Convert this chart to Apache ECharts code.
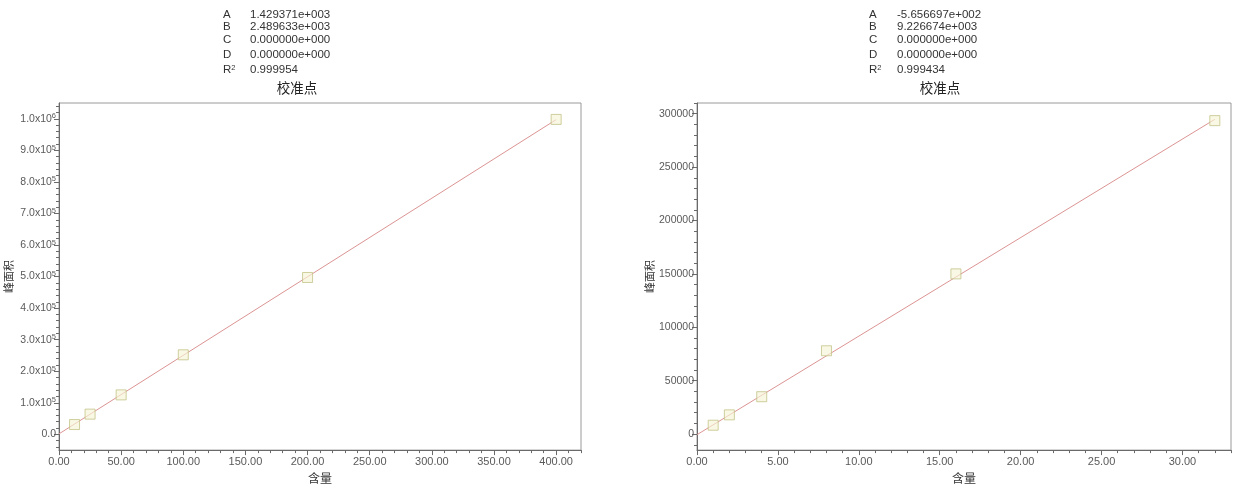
<!DOCTYPE html>
<html>
<head>
<meta charset="utf-8">
<script src="https://cdn.jsdelivr.net/npm/echarts@6/dist/echarts.min.js"></script>
<style>
html,body{margin:0;padding:0;background:#fff;}
#c{width:1250px;height:489px;}
</style>
</head>
<body>
<div id="c"></div>
<script>
// ---- data ----
const statNames = ['A', 'B', 'C', 'D', 'R2'];
const leftStats = ['1.429371e+003', '2.489633e+003', '0.000000e+000', '0.000000e+000', '0.999954'];
const rightStats = ['-5.656697e+002', '9.226674e+003', '0.000000e+000', '0.000000e+000', '0.999434'];
const chartTitle = '校准点';
const xName = '含量';
const yName = '峰面积';

const leftX = [12.5, 25, 50, 100, 200, 400];
const leftY = [31000, 64000, 125000, 252000, 497000, 998000];
const leftFitX = [0, 400];
const leftFitY = [1429, 997282];
const leftXTicks = [0, 50, 100, 150, 200, 250, 300, 350, 400];
const leftYTicks = [0, 100000, 200000, 300000, 400000, 500000, 600000, 700000, 800000, 900000, 1000000];

const rightX = [1, 2, 4, 8, 16, 32];
const rightY = [8300, 18000, 35000, 78000, 150000, 293500];
const rightFitX = [0, 32];
const rightFitY = [-566, 294688];
const rightXTicks = [0, 5, 10, 15, 20, 25, 30];
const rightYTicks = [0, 50000, 100000, 150000, 200000, 250000, 300000];

// minor tick positions
const leftXMinor = [];
for (let v = 0; v <= 420; v += 10) leftXMinor.push(v);
const leftYMinor = [];
for (let v = -40000; v <= 1040000; v += 20000) leftYMinor.push(v);
const rightXMinor = [];
for (let v = 0; v <= 33; v += 1) rightXMinor.push(v);
const rightYMinor = [];
for (let v = -10000; v <= 310000; v += 10000) rightYMinor.push(v);

// ---- chart ----
const chart = echarts.init(document.getElementById('c'));
const FONT = 'Liberation Sans, Arial, sans-serif';
const CJK = 'Noto Sans CJK SC, sans-serif';
const axisColor = '#6a6a6a';
const labelColor = '#5a5a5a';

function sciFmt(v) {
  if (v === 0) return '0.0';
  const e = Math.floor(Math.log10(v) + 1e-9);
  const m = (v / Math.pow(10, e)).toFixed(1);
  return '{b|' + m + 'x10}{s|' + e + '}';
}

const grids = [
  {left: 59, top: 103, width: 522, height: 350, show: true, borderColor: '#9a9a9a', borderWidth: 1, backgroundColor: '#fff'},
  {left: 697, top: 103, width: 534, height: 350, show: true, borderColor: '#9a9a9a', borderWidth: 1, backgroundColor: '#fff'}
];

function mainX(gi, min, max, ticks) {
  return {
    type: 'value', gridIndex: gi, min: min, max: max, name: xName, position: 'bottom',
    nameLocation: 'middle', nameGap: 20,
    nameTextStyle: {fontFamily: CJK, fontSize: 12, color: '#333'},
    axisLine: {show: true, onZero: false, lineStyle: {color: axisColor, width: 1}},
    axisTick: {show: true, inside: false, length: 5, customValues: ticks, lineStyle: {color: axisColor}},
    axisLabel: {show: true, customValues: ticks, margin: 6, fontFamily: FONT, fontSize: 11, color: labelColor,
      formatter: v => v.toFixed(2)},
    splitLine: {show: false}
  };
}
function minorX(gi, min, max, ticks) {
  return {
    type: 'value', gridIndex: gi, min: min, max: max, position: 'bottom',
    axisLine: {show: false, onZero: false},
    axisTick: {show: true, inside: false, length: 3, customValues: ticks, lineStyle: {color: axisColor}},
    axisLabel: {show: false},
    splitLine: {show: false}
  };
}
function mainY(gi, min, max, ticks, fmt, gap) {
  return {
    type: 'value', gridIndex: gi, min: min, max: max, name: yName, position: 'left',
    nameLocation: 'middle', nameGap: gap, nameRotate: 90,
    nameTextStyle: {fontFamily: CJK, fontSize: 11, color: '#333'},
    axisLine: {show: true, onZero: false, lineStyle: {color: axisColor, width: 1}},
    axisTick: {show: true, inside: false, length: 5, customValues: ticks, lineStyle: {color: axisColor}},
    axisLabel: {show: true, customValues: ticks, margin: 3, fontFamily: FONT, fontSize: 10.5, color: labelColor,
      formatter: fmt,
      rich: {
        b: {fontFamily: FONT, fontSize: 10.5, color: labelColor, lineHeight: 12},
        s: {fontFamily: FONT, fontSize: 7.5, color: labelColor, lineHeight: 12, padding: [0, 0, 5, 0]}
      }},
    splitLine: {show: false}
  };
}
function minorY(gi, min, max, ticks) {
  return {
    type: 'value', gridIndex: gi, min: min, max: max, position: 'left',
    axisLine: {show: false, onZero: false},
    axisTick: {show: true, inside: false, length: 3, customValues: ticks, lineStyle: {color: axisColor}},
    axisLabel: {show: false},
    splitLine: {show: false}
  };
}

function pts(xs, ys) { return xs.map((x, i) => [x, ys[i]]); }

const markerStyle = {color: 'rgba(246,244,214,0.8)', borderColor: '#c3c388', borderWidth: 1};
const lineColor = '#dc9494';

function statsGraphic(xLab, xVal, vals, titleX) {
  const rowsY = [15, 27, 40, 55, 70];
  const g = [];
  statNames.forEach((n, i) => {
    g.push({type: 'text', x: xLab, y: rowsY[i],
      style: {text: n === 'R2' ? '{r|R}{s|2}' : n, fill: '#333', fontFamily: FONT, fontSize: 11.5, verticalAlign: 'middle',
        rich: {r: {fontFamily: FONT, fontSize: 11.5, fill: '#333', lineHeight: 13},
               s: {fontFamily: FONT, fontSize: 7.5, fill: '#333', lineHeight: 13, padding: [0, 0, 5, 0]}}}});
    g.push({type: 'text', x: xVal, y: rowsY[i],
      style: {text: vals[i], fill: '#333', fontFamily: FONT, fontSize: 11.5, verticalAlign: 'middle'}});
  });
  g.push({type: 'text', x: titleX, y: 88,
    style: {text: chartTitle, fill: '#222', fontFamily: CJK, fontSize: 13.5, align: 'center', verticalAlign: 'middle'}});
  return g;
}

const option = {
  animation: false,
  backgroundColor: '#fff',
  grid: grids,
  xAxis: [
    mainX(0, 0, 420, leftXTicks),
    minorX(0, 0, 420, leftXMinor),
    mainX(1, 0, 33, rightXTicks),
    minorX(1, 0, 33, rightXMinor)
  ],
  yAxis: [
    mainY(0, -50000, 1050000, leftYTicks, sciFmt, 45),
    minorY(0, -50000, 1050000, leftYMinor),
    mainY(1, -15000, 310000, rightYTicks, v => String(v), 41),
    minorY(1, -15000, 310000, rightYMinor)
  ],
  series: [
    {type: 'line', xAxisIndex: 0, yAxisIndex: 0, data: pts(leftFitX, leftFitY), symbol: 'none',
      lineStyle: {color: lineColor, width: 1}, z: 2},
    {type: 'scatter', xAxisIndex: 0, yAxisIndex: 0, data: pts(leftX, leftY), symbol: 'rect', symbolSize: 10,
      itemStyle: markerStyle, z: 3},
    {type: 'line', xAxisIndex: 2, yAxisIndex: 2, data: pts(rightFitX, rightFitY), symbol: 'none',
      lineStyle: {color: lineColor, width: 1}, z: 2},
    {type: 'scatter', xAxisIndex: 2, yAxisIndex: 2, data: pts(rightX, rightY), symbol: 'rect', symbolSize: 10,
      itemStyle: markerStyle, z: 3}
  ],
  graphic: statsGraphic(223, 250, leftStats, 297).concat(statsGraphic(869, 897, rightStats, 940))
};
chart.setOption(option);
</script>
</body>
</html>
